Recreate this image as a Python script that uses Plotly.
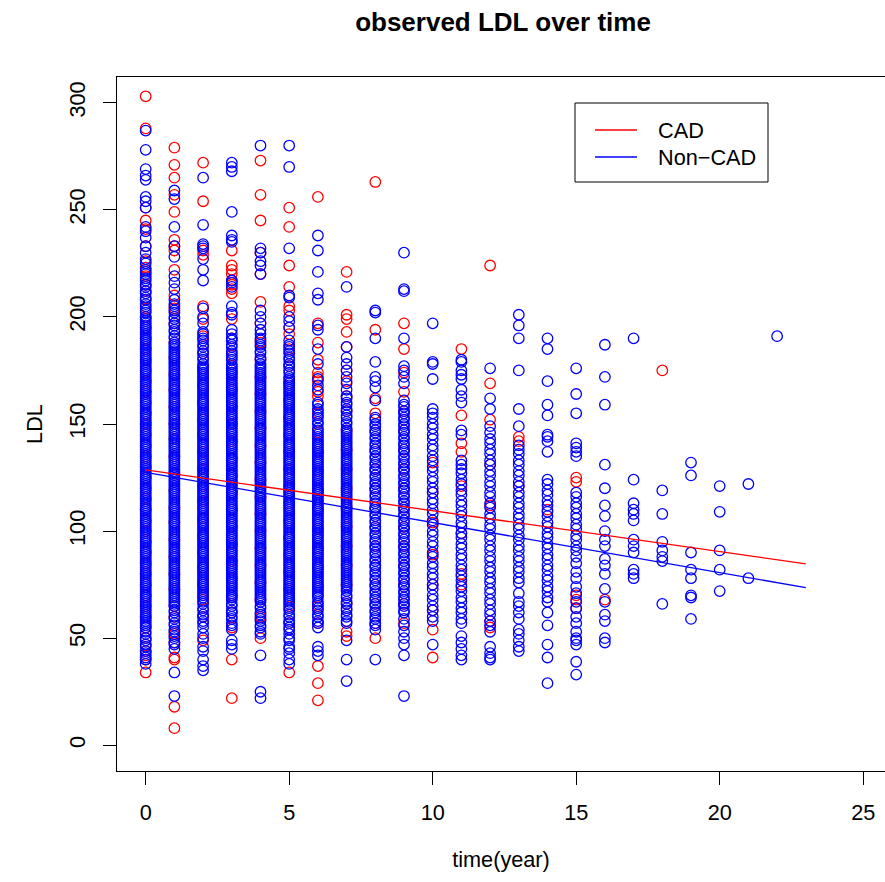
import plotly.graph_objects as go

# ---------------- data ----------------
# LDL values of CAD patients, by follow-up year
cad_y00 = [303, 288, 251, 245, 241, 233, 226, 223, 219, 215, 212, 208, 204, 200, 195, 190, 185, 180, 175,
           170, 165, 160, 155, 150, 145, 140, 135, 130, 125, 120, 115, 110, 105, 100, 95, 90, 85, 80, 75,
           70, 65, 60, 55, 50, 47, 44, 42, 40, 34]
cad_y01 = [279, 271, 265, 257, 249, 236, 233, 231, 222, 210, 204, 197, 188, 181, 173, 166, 158, 150, 143,
           135, 127, 119, 111, 104, 96, 88, 80, 73, 65, 60, 52, 48, 41, 40, 18, 8]
cad_y02 = [272, 254, 231, 229, 205, 199, 191, 183, 176, 168, 160, 152, 145, 137, 129, 121, 114, 106, 98,
           90, 83, 75, 68, 60, 49]
cad_y03 = [231, 224, 222, 220, 217, 215, 213, 211, 199, 190, 182, 174, 166, 158, 150, 142, 134, 126, 118,
           110, 102, 94, 86, 78, 70, 62, 55, 40, 22]
cad_y04 = [273, 257, 245, 230, 220, 207, 197, 188, 180, 172, 164, 156, 148, 140, 132, 124, 116, 108, 100,
           92, 84, 76, 68, 60, 50]
cad_y05 = [251, 242, 224, 214, 205, 203, 195, 192, 185, 177, 169, 161, 153, 145, 137, 129, 121, 113, 105,
           97, 89, 81, 73, 65, 57, 34]
cad_y06 = [256, 197, 188, 180, 174, 172, 170, 165, 163, 155, 146, 137, 128, 119, 110, 101, 92, 83, 74, 65,
           57, 37, 29, 21]
cad_y07 = [221, 201, 199, 193, 186, 175, 170, 163, 156, 147, 138, 129, 120, 111, 102, 93, 84, 75, 66, 53, 51]
cad_y08 = [263, 194, 162, 155, 147, 138, 129, 120, 111, 102, 93, 84, 75, 66, 57, 50]
cad_y09 = [197, 185, 174, 165, 156, 147, 138, 129, 120, 111, 102, 93, 84, 75, 66, 57]
cad_y10 = [132, 118, 104, 89, 75, 63, 54, 41]
cad_y11 = [185, 154, 141, 137, 121, 99, 80, 75]
cad_y12 = [224, 169, 152, 131, 112, 58, 55]
cad_y13 = [144, 142, 121]
cad_y14 = [110]
cad_y15 = [125, 123, 70, 68, 64]
cad_y16 = [68]
cad_y18 = [175]

# LDL values of Non-CAD patients, by follow-up year
non_y00 = [287, 278, 269, 266, 264, 256, 254, 251, 242, 240, 237, 233, 230, 227, 225, 222,
           38, 40, 41, 43, 44, 46, 47, 49, 50, 52, 53, 55,
           56, 57, 58, 59, 60, 61, 62, 63, 64, 65, 66, 67, 68, 69, 70, 71, 72, 73, 74, 75,
           76, 77, 78, 79, 80, 81, 82, 83, 84, 85, 86, 87, 88, 89, 90, 91, 92, 93, 94, 95,
           96, 97, 98, 99, 100, 101, 102, 103, 104, 105, 106, 107, 108, 109, 110, 111, 112, 113, 114, 115,
           116, 117, 118, 119, 120, 121, 122, 123, 124, 125, 126, 127, 128, 129, 130, 131, 132, 133, 134,
           135, 136, 137, 138, 139, 140, 141, 142, 143, 144, 145, 146, 147, 148, 149, 150, 151, 152, 153,
           154, 155, 156, 157, 158, 159, 160, 161, 162, 163, 164, 165, 166, 167, 168, 169, 170, 171, 172,
           173, 174, 175, 176, 177, 178, 179, 180, 181, 182, 183, 184, 185, 186, 187, 188, 189, 190, 191,
           192, 193, 194, 195, 196, 197, 198, 199, 200,
           202, 203, 205, 206, 208, 209, 211, 212, 214, 215, 217, 218, 220, 221]
non_y01 = [259, 255, 242, 233, 228, 219, 216, 213,
           45, 47, 48, 50, 51, 53, 54, 56, 57, 59, 60, 62, 63,
           65, 66, 67, 68, 69, 70, 71, 72, 73, 74, 75, 76, 77, 78, 79, 80, 81, 82, 83, 84, 85, 86, 87, 88,
           89, 90, 91, 92, 93, 94, 95, 96, 97, 98, 99, 100, 101, 102, 103, 104, 105, 106, 107, 108, 109,
           110, 111, 112, 113, 114, 115, 116, 117, 118, 119, 120, 121, 122, 123, 124, 125, 126, 127, 128,
           129, 130, 131, 132, 133, 134, 135, 136, 137, 138, 139, 140, 141, 142, 143, 144, 145, 146, 147,
           148, 149, 150, 151, 152, 153, 154, 155, 156, 157, 158, 159, 160, 161, 162, 163, 164, 165, 166,
           167, 168, 169, 170, 171, 172, 173, 174, 175, 176, 177, 178, 179, 180, 181, 182, 183, 184, 185,
           186, 187, 188,
           190, 191, 193, 194, 196, 197, 199, 200, 202, 203, 205, 206, 208,
           34, 23]
non_y02 = [265, 243, 234, 233, 232, 227, 222, 217, 204, 200, 197,
           55, 57, 58, 60, 61, 63, 64, 66, 67, 69, 70,
           71, 72, 73, 74, 75, 76, 77, 78, 79, 80, 81, 82, 83, 84, 85, 86, 87, 88, 89, 90, 91, 92, 93, 94,
           95, 96, 97, 98, 99, 100, 101, 102, 103, 104, 105, 106, 107, 108, 109, 110, 111, 112, 113, 114,
           115, 116, 117, 118, 119, 120, 121, 122, 123, 124, 125, 126, 127, 128, 129, 130, 131, 132, 133,
           134, 135, 136, 137, 138, 139, 140, 141, 142, 143, 144, 145, 146, 147, 148, 149, 150, 151, 152,
           153, 154, 155, 156, 157, 158, 159, 160, 161, 162, 163, 164, 165, 166, 167, 168, 169, 170, 171,
           172, 173, 174, 175, 176, 177, 178,
           180, 181, 183, 184, 186, 187, 189, 190, 192, 193,
           52, 50, 46, 44, 40, 37, 35]
non_y03 = [272, 270, 268, 249, 238, 236, 235, 217, 216, 214, 205, 202, 201,
           54, 56, 57, 59, 60, 62, 63, 65, 66, 68, 69,
           70, 71, 72, 73, 74, 75, 76, 77, 78, 79, 80, 81, 82, 83, 84, 85, 86, 87, 88, 89, 90, 91, 92, 93,
           94, 95, 96, 97, 98, 99, 100, 101, 102, 103, 104, 105, 106, 107, 108, 109, 110, 111, 112, 113,
           114, 115, 116, 117, 118, 119, 120, 121, 122, 123, 124, 125, 126, 127, 128, 129, 130, 131, 132,
           133, 134, 135, 136, 137, 138, 139, 140, 141, 142, 143, 144, 145, 146, 147, 148, 149, 150, 151,
           152, 153, 154, 155, 156, 157, 158, 159, 160, 161, 162, 163, 164, 165, 166, 167, 168, 169, 170,
           171, 172, 173, 174, 175, 176, 177, 178,
           180, 181, 183, 184, 186, 187, 189, 190, 192, 194,
           49, 47, 45]
non_y04 = [280, 232, 230, 226, 224, 220, 203, 200, 197,
           52, 53, 55, 56, 58, 59, 61, 62, 64, 65, 67, 68,
           69, 70, 71, 72, 73, 74, 75, 76, 77, 78, 79, 80, 81, 82, 83, 84, 85, 86, 87, 88, 89, 90, 91, 92,
           93, 94, 95, 96, 97, 98, 99, 100, 101, 102, 103, 104, 105, 106, 107, 108, 109, 110, 111, 112,
           113, 114, 115, 116, 117, 118, 119, 120, 121, 122, 123, 124, 125, 126, 127, 128, 129, 130, 131,
           132, 133, 134, 135, 136, 137, 138, 139, 140, 141, 142, 143, 144, 145, 146, 147, 148, 149, 150,
           151, 152, 153, 154, 155, 156, 157, 158, 159, 160, 161, 162, 163, 164, 165, 166, 167, 168, 169,
           170, 171, 172, 173, 174, 175, 176, 177, 178,
           180, 181, 183, 184, 186, 187, 189, 190, 192, 194,
           42, 25, 22]
non_y05 = [280, 270, 232, 210, 209, 200, 198, 195,
           52, 54, 55, 57, 58, 60, 61, 63, 64, 66, 67,
           68, 69, 70, 71, 72, 73, 74, 75, 76, 77, 78, 79, 80, 81, 82, 83, 84, 85, 86, 87, 88, 89, 90, 91,
           92, 93, 94, 95, 96, 97, 98, 99, 100, 101, 102, 103, 104, 105, 106, 107, 108, 109, 110, 111,
           112, 113, 114, 115, 116, 117, 118, 119, 120, 121, 122, 123, 124, 125, 126, 127, 128, 129, 130,
           131, 132, 133, 134, 135, 136, 137, 138, 139, 140, 141, 142, 143, 144, 145, 146, 147, 148, 149,
           150, 151, 152, 153, 154, 155, 156, 157, 158, 159, 160, 161, 162, 163, 164, 165, 166, 167, 168,
           169, 170, 171, 172,
           174, 175, 177, 178, 180, 181, 183, 184, 186, 187, 189,
           50, 49, 46, 45, 43, 40, 38]
non_y06 = [238, 231, 221, 211, 208, 196, 194, 185, 178, 171, 168, 166,
           55, 57, 58, 60, 61, 63, 64, 66, 67, 69,
           70, 71, 72, 73, 74, 75, 76, 77, 78, 79, 80, 81, 82, 83, 84, 85, 86, 87, 88, 89, 90, 91, 92, 93,
           94, 95, 96, 97, 98, 99, 100, 101, 102, 103, 104, 105, 106, 107, 108, 109, 110, 111, 112, 113,
           114, 115, 116, 117, 118, 119, 120, 121, 122, 123, 124, 125, 126, 127, 128, 129, 130, 131, 132,
           133, 134, 135, 136, 137, 138, 139, 140, 141, 142, 143, 144, 145,
           147, 148, 150, 151, 153, 154, 156, 157, 159, 160,
           46, 44, 42]
non_y07 = [214, 186, 181, 178, 175, 172, 169, 166,
           57, 58, 60, 61, 63, 64, 66, 67, 69, 70, 72,
           73, 74, 75, 76, 77, 78, 79, 80, 81, 82, 83, 84, 85, 86, 87, 88, 89, 90, 91, 92, 93, 94, 95, 96,
           97, 98, 99, 100, 101, 102, 103, 104, 105, 106, 107, 108, 109, 110, 111, 112, 113, 114, 115, 116,
           117, 118, 119, 120, 121, 122, 123, 124, 125, 126, 127, 128, 129, 130, 131, 132, 133, 134, 135,
           136, 137, 138, 139, 140, 141, 142, 143, 144, 145, 146, 147, 148,
           150, 151, 153, 154, 156, 157, 159, 160, 162, 163,
           49, 40, 30]
non_y08 = [203, 202, 190, 179, 172, 170, 167, 161,
           54, 56, 57, 59, 60, 62, 63, 65, 66, 68, 69, 71, 72, 74, 75, 77, 78, 80, 81, 83, 84, 86, 87, 89,
           90, 92, 93, 95, 96, 98, 99, 101, 102, 104, 105, 107, 108, 110, 111, 113, 114, 116, 117, 119, 120,
           122, 123, 125, 126, 128, 129, 131, 132, 134, 135, 137, 138, 140, 141, 143, 144, 146, 147, 149,
           150, 152, 153,
           40]
non_y09 = [230, 213, 212, 190, 177, 175, 172, 169,
           62, 63, 65, 66, 68, 69, 71, 72, 74, 75, 77, 78, 80, 81, 83, 84, 86, 87, 89, 90, 92, 93, 95, 96,
           98, 99, 101, 102, 104, 105, 107, 108, 110, 111, 113, 114, 116, 117, 119, 120, 122, 123, 125,
           126, 128, 129, 131, 132, 134, 135, 137, 138, 140, 141, 143, 144, 146, 147, 149, 150, 152, 153,
           155, 156, 158, 159, 161,
           59, 56, 53, 50, 47, 42, 23]
non_y10 = [197, 179, 178, 171,
           58, 60, 63, 65, 68, 70, 73, 75, 78, 80, 83, 85, 88, 90, 93, 95, 98, 100, 103, 105, 108, 110, 113,
           115, 118, 120, 123, 125, 128, 130, 133, 135, 138, 140, 143, 145, 148, 150, 153, 155, 157,
           47]
non_y11 = [180, 179, 175, 173, 171, 166, 163, 160, 147, 145,
           57, 59, 62, 64, 67, 69, 72, 74, 77, 79, 82, 84, 87, 89, 92, 94, 97, 99, 102, 104, 107, 109, 112,
           114, 117, 119, 122, 124, 127, 129, 131, 133,
           51, 48, 45, 42, 40]
non_y12 = [176, 162, 157,
           53, 56, 58, 61, 63, 66, 68, 71, 73, 76, 78, 81, 83, 86, 88, 91, 93, 96, 98, 101, 103, 106, 108,
           111, 113, 116, 118, 121, 123, 126, 128, 131, 133, 136, 138, 141, 143, 146, 149,
           46, 43, 41, 40]
non_y13 = [201, 196, 190, 175, 157, 149,
           76, 78, 81, 83, 86, 88, 91, 93, 96, 98, 101, 103, 106, 108, 111, 113, 116, 118, 121, 123, 126,
           128, 131, 133, 136, 138, 140,
           71, 67, 65, 62, 59, 54, 52, 49, 46, 44]
non_y14 = [190, 185, 170, 159, 154, 145, 144, 142, 137,
           67, 69, 72, 74, 77, 79, 82, 84, 87, 89, 92, 94, 97, 99, 102, 104, 107, 109, 112, 114, 117, 119,
           122, 124,
           62, 56, 47, 41, 29]
non_y15 = [176, 164, 155, 141, 139, 137, 135,
           96, 98, 101, 103, 106, 108, 111, 113, 116, 118,
           53, 57, 60, 64, 67, 71, 74, 78, 81, 85, 88, 91, 93,
           50, 49, 47, 39, 33]
non_y16 = [187, 172, 159, 131, 120, 112, 107, 100, 96, 93, 87, 84, 80, 73, 67, 61, 58, 50, 48]
non_y17 = [190, 124, 113, 110, 108, 105, 96, 93, 90, 82, 80, 78]
non_y18 = [119, 108, 95, 91, 88, 86, 66]
non_y19 = [132, 126, 90, 82, 78, 70, 69, 59]
non_y20 = [121, 109, 91, 82, 72]
non_y21 = [122, 78]
non_y22 = [191]

cad_years = [0, 1, 2, 3, 4, 5, 6, 7, 8, 9, 10, 11, 12, 13, 14, 15, 16, 18]
cad_lists = [cad_y00, cad_y01, cad_y02, cad_y03, cad_y04, cad_y05, cad_y06, cad_y07, cad_y08, cad_y09,
             cad_y10, cad_y11, cad_y12, cad_y13, cad_y14, cad_y15, cad_y16, cad_y18]
non_years = [0, 1, 2, 3, 4, 5, 6, 7, 8, 9, 10, 11, 12, 13, 14, 15, 16, 17, 18, 19, 20, 21, 22]
non_lists = [non_y00, non_y01, non_y02, non_y03, non_y04, non_y05, non_y06, non_y07, non_y08, non_y09,
             non_y10, non_y11, non_y12, non_y13, non_y14, non_y15, non_y16, non_y17, non_y18, non_y19,
             non_y20, non_y21, non_y22]

# fitted trend lines (end points)
fit_time = [0, 23]
cad_fit = [128.6, 84.7]
non_fit = [127.4, 73.6]

group_names = ["CAD", "Non\u2212CAD"]
x_ticks = [0, 5, 10, 15, 20, 25]
y_ticks = [0, 50, 100, 150, 200, 250, 300]


def flatten(years, lists):
    xs, ys = [], []
    for t, vals in zip(years, lists):
        xs.extend([t] * len(vals))
        ys.extend(vals)
    return xs, ys


cad_x, cad_v = flatten(cad_years, cad_lists)
non_x, non_v = flatten(non_years, non_lists)

RED = "#FF0000"
BLUE = "#0000FF"
FONT = "Liberation Sans, Arial, Helvetica, sans-serif"
FS = 21.7

W, H = 885, 882
SCR_L, SCR_T, SCR_B = 117, 77, 771          # plot area on the page
ML, MT, MR = SCR_L, SCR_T, 0
MB = H - SCR_B
PW, PH = W - ML - MR, H - MT - MB


def px(sx):   # page x -> paper x
    return (sx - SCR_L) / PW


def py(sy):   # page y -> paper y
    return (SCR_B - sy) / PH


fig = go.Figure()
marker_common = dict(symbol="circle-open", size=10.5, line=dict(width=1.3))
fig.add_trace(go.Scatter(x=cad_x, y=cad_v, mode="markers", showlegend=False,
                         marker=dict(color=RED, **marker_common), hoverinfo="skip"))
fig.add_trace(go.Scatter(x=non_x, y=non_v, mode="markers", showlegend=False,
                         marker=dict(color=BLUE, **marker_common), hoverinfo="skip"))
fig.add_trace(go.Scatter(x=fit_time, y=cad_fit, mode="lines", name=group_names[0], showlegend=False,
                         line=dict(color=RED, width=1.3)))
fig.add_trace(go.Scatter(x=fit_time, y=non_fit, mode="lines", name=group_names[1], showlegend=False,
                         line=dict(color=BLUE, width=1.3)))

# legend box (drawn like R's legend())
shapes = [dict(type="rect", xref="paper", yref="paper", x0=px(575), x1=px(768), y0=py(182), y1=py(103),
               line=dict(color="black", width=1), fillcolor="white", layer="above")]
annotations = []
for name, col, sy in zip(group_names, [RED, BLUE], [130, 157]):
    shapes.append(dict(type="line", xref="paper", yref="paper", x0=px(595), x1=px(637), y0=py(sy), y1=py(sy),
                       line=dict(color=col, width=1.3), layer="above"))
    annotations.append(dict(text=name, xref="paper", yref="paper", x=px(656), y=py(sy),
                            xanchor="left", yanchor="middle", showarrow=False,
                            font=dict(size=FS, family=FONT, color="black")))

fig.update_layout(
    width=W, height=H,
    margin=dict(l=ML, r=MR, t=MT, b=MB, pad=0),
    paper_bgcolor="white", plot_bgcolor="white",
    font=dict(family=FONT, size=FS, color="black"),
    title=dict(text="<b>observed LDL over time</b>", font=dict(size=26, family=FONT, color="black"),
               x=503 / W, xref="container", xanchor="center",
               y=1 - 22 / H, yref="container", yanchor="middle"),
    showlegend=False,
    shapes=shapes,
    annotations=annotations,
)
fig.update_xaxes(range=[-1, -1 + PW / 28.7], tickvals=x_ticks, ticktext=[str(v) for v in x_ticks],
                 ticks="outside", ticklen=13, tickwidth=1, tickcolor="black",
                 showline=True, linecolor="black", linewidth=1, mirror=True,
                 showgrid=False, zeroline=False, ticklabelstandoff=9,
                 title=dict(text="time(year)", standoff=27, font=dict(size=FS, family=FONT)))
fig.update_yaxes(range=[-12, 312], tickvals=y_ticks, ticktext=[str(v) for v in y_ticks],
                 tickangle=-90, ticks="outside", ticklen=13, tickwidth=1, tickcolor="black",
                 showline=True, linecolor="black", linewidth=1, mirror=False,
                 showgrid=False, zeroline=False, ticklabelstandoff=9,
                 title=dict(text="LDL", standoff=16, font=dict(size=FS, family=FONT)))

fig.write_html("out.html", config={"displayModeBar": False},
               post_script="document.body.style.margin='0';document.body.style.overflow='hidden';")
